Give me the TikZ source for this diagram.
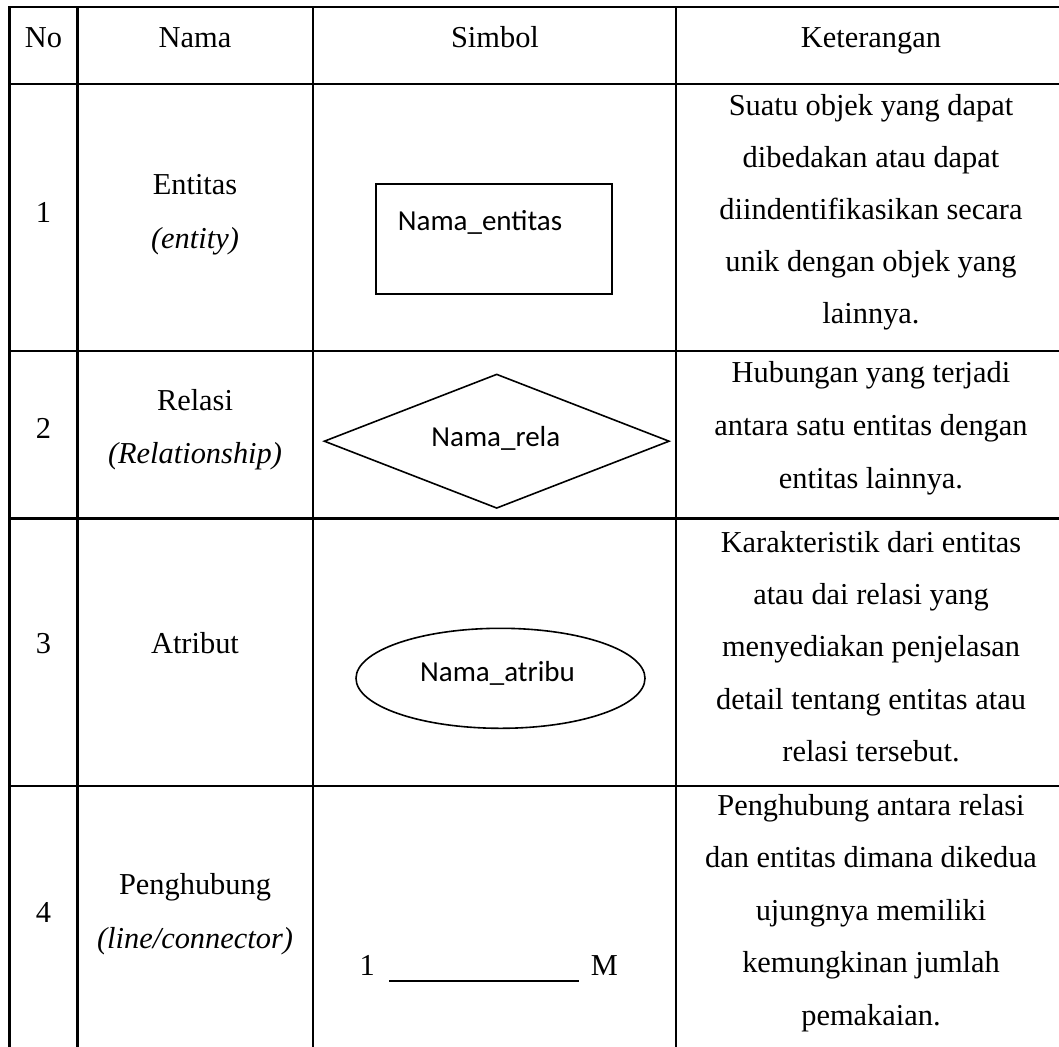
\documentclass[tikz,border=0pt]{standalone}
\usepackage{fontspec}
\setmainfont{Liberation Serif}
\newfontfamily\calib{Carlito}
\usetikzlibrary{shapes.geometric}
\begin{document}
\begin{tikzpicture}[x=1pt,y=-1pt,
  tbl/.style={line width=2.4pt, line cap=rect},
  shp/.style={draw, line width=1.6pt},
  txt/.style={anchor=base, inner sep=0pt, font=\fontsize{30.4}{36}\selectfont},
  itx/.style={txt, font=\fontsize{30.4}{36}\selectfont\itshape},
  sym/.style={anchor=base, inner sep=0pt, font=\calib\fontsize{29}{34}\selectfont}]
\useasboundingbox (0,0) rectangle (1059,1046);
\clip (0,0) rectangle (1059,1046);
\fill[white] (0,0) rectangle (1059,1046);
% table grid
\draw[tbl] (9.5,7) -- (1070,7);
\foreach \yy in {84,351,518.5,786} \draw[tbl] (9.5,\yy) -- (1070,\yy);
\foreach \xx in {9.5,77.5,313,676} \draw[tbl] (\xx,7) -- (\xx,1060);
% header
\node[txt] (hNo) at (43.5,47.7) {No};
\node[txt] (hNama) at (195,47.7) {Nama};
\node[txt] (hSim) at (495,47.7) {Simbol};
\node[txt] (hKet) at (871,47.7) {Keterangan};
% numbers
\node[txt] (n1) at (43.5,222) {1};
\node[txt] (n2) at (43.5,438) {2};
\node[txt] (n3) at (43.5,653) {3};
\node[txt] (n4) at (43.5,922) {4};
% names
\node[txt] (nm1a) at (195,194) {Entitas};
\node[itx] (nm1b) at (195,248) {(entity)};
\node[txt] (nm2a) at (195,410) {Relasi};
\node[itx] (nm2b) at (195,463) {(Relationship)};
\node[txt] (nm3a) at (195,653) {Atribut};
\node[txt] (nm4a) at (195,894) {Penghubung};
\node[itx] (nm4b) at (195,948) {(line/connector)};
% descriptions
\foreach \t [count=\i] in {Suatu objek yang dapat,dibedakan atau dapat,diindentifikasikan secara,unik dengan objek yang,lainnya.}
  \node[txt] (ka\i) at (871,{115+52*(\i-1)}) {\t};
\foreach \t [count=\i] in {Hubungan yang terjadi,antara satu entitas dengan,entitas lainnya.}
  \node[txt] (kb\i) at (871,{382.3+53*(\i-1)}) {\t};
\foreach \t [count=\i] in {Karakteristik dari entitas,atau dai relasi yang,menyediakan penjelasan,detail tentang entitas atau,relasi tersebut.}
  \node[txt] (kc\i) at (871,{552+52.4*(\i-1)}) {\t};
\foreach \t [count=\i] in {Penghubung antara relasi,dan entitas dimana dikedua,ujungnya memiliki,kemungkinan jumlah,pemakaian.}
  \node[txt] (kd\i) at (871,{815+52.5*(\i-1)}) {\t};
% symbol 1: entity rectangle
\draw[shp, line width=1.8pt] (376,184.3) rectangle (612.3,294);
\node[sym, anchor=base west] (sEnt) at (397.7,230) {Nama\_entitas};
% symbol 2: relationship diamond
\node[shp, diamond, inner sep=0pt, minimum width=345.3pt, minimum height=134.3pt] (sRelShape) at (496.7,441.2) {};
\node[sym] (sRel) at (495.8,446.7) {Nama\_rela};
% symbol 3: attribute ellipse
\node[shp, ellipse, inner sep=0pt, minimum width=289pt, minimum height=100pt] (sAttShape) at (500.5,678.3) {};
\node[sym] (sAtt) at (497.5,681.7) {Nama\_atribu};
% symbol 4: connector
\node[txt] (cOne) at (367.2,975.7) {1};
\node[txt] (cM) at (604.5,975.7) {M};
\coordinate (lnA) at (389.3,980.7);
\coordinate (lnB) at (579.3,980.7);
\draw[line width=2pt] (lnA) -- (lnB);
\end{tikzpicture}
\end{document}
